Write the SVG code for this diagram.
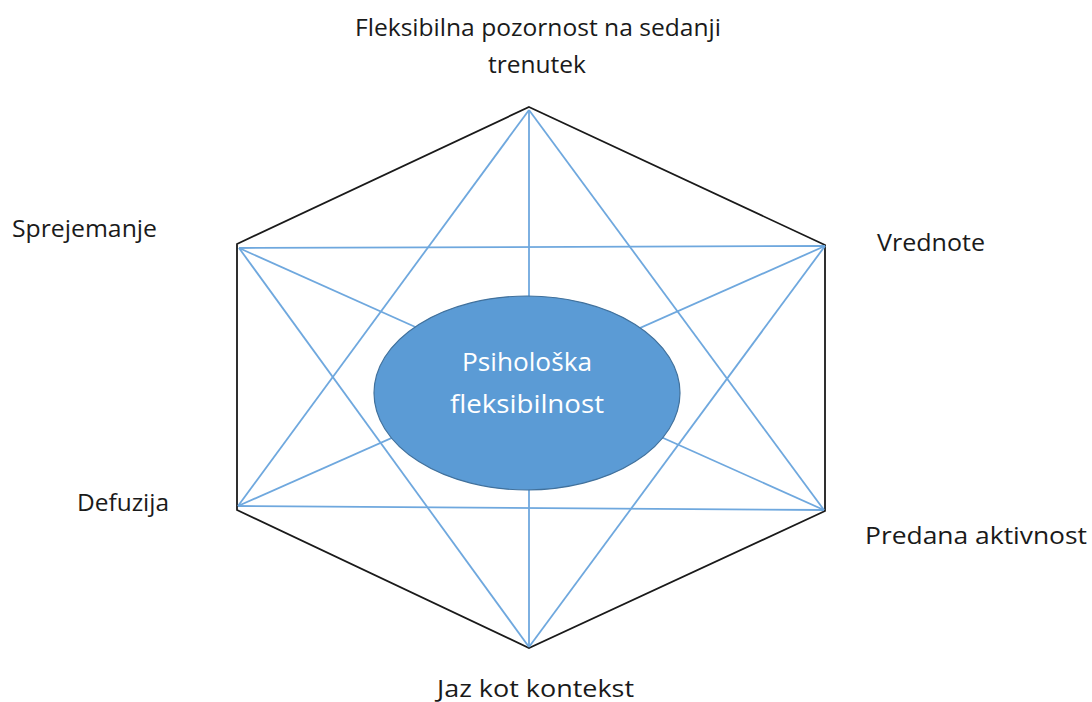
<svg xmlns="http://www.w3.org/2000/svg" width="1092" height="702" viewBox="0 0 1092 702">
<style>
.hex{fill:none;stroke:#1a1a1a;stroke-width:1.8}
.diag{stroke:#6fa8de;stroke-width:1.8;fill:none}
.lbl{font-family:"Open Sans","Liberation Sans",sans-serif;font-size:23px;fill:#1a1a1a}
.ctr{font-family:"Open Sans","Liberation Sans",sans-serif;font-size:25px;fill:#ffffff;text-anchor:middle}
</style>
<rect width="1092" height="702" fill="#ffffff"/>
<g id="connectors">
<polygon class="hex" points="529,107 825,245 825,511 529,648 237,510 237,244"/>
<line class="diag" x1="529" y1="110" x2="529" y2="647"/>
<line class="diag" x1="529" y1="110" x2="238" y2="506"/>
<line class="diag" x1="529" y1="110" x2="824" y2="510"/>
<line class="diag" x1="239" y1="248" x2="825" y2="246"/>
<line class="diag" x1="238" y1="506" x2="824" y2="510"/>
<line class="diag" x1="239" y1="248" x2="824" y2="510"/>
<line class="diag" x1="825" y1="246" x2="238" y2="506"/>
<line class="diag" x1="239" y1="248" x2="529" y2="647"/>
<line class="diag" x1="825" y1="246" x2="529" y2="647"/>
</g>
<g id="center">
<ellipse cx="527" cy="393" rx="153" ry="97" fill="#5b9bd5" stroke="#41719c" stroke-width="1.2"/>
<text class="ctr" x="527" y="371" textLength="130" lengthAdjust="spacingAndGlyphs">Psihološka</text>
<text class="ctr" x="527" y="413" textLength="154" lengthAdjust="spacingAndGlyphs">fleksibilnost</text>
</g>
<g id="node-top">
<text class="lbl" x="538" y="36" text-anchor="middle" textLength="366" lengthAdjust="spacingAndGlyphs">Fleksibilna pozornost na sedanji</text>
<text class="lbl" x="537" y="73" text-anchor="middle" textLength="98" lengthAdjust="spacingAndGlyphs">trenutek</text>
</g>
<g id="node-sprejemanje"><text class="lbl" x="12" y="237" textLength="145" lengthAdjust="spacingAndGlyphs">Sprejemanje</text></g>
<g id="node-vrednote"><text class="lbl" x="877" y="251" textLength="108" lengthAdjust="spacingAndGlyphs">Vrednote</text></g>
<g id="node-defuzija"><text class="lbl" x="77" y="511" textLength="92" lengthAdjust="spacingAndGlyphs">Defuzija</text></g>
<g id="node-predana"><text class="lbl" x="865" y="544" textLength="222" lengthAdjust="spacingAndGlyphs">Predana aktivnost</text></g>
<g id="node-jaz"><text class="lbl" x="437" y="697" textLength="197" lengthAdjust="spacingAndGlyphs">Jaz kot kontekst</text></g>
</svg>
